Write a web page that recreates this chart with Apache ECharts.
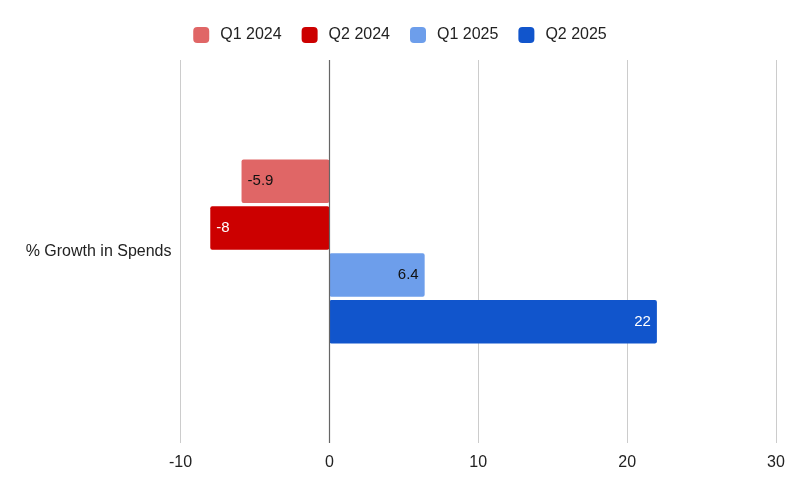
<!DOCTYPE html>
<html>
<head>
<meta charset="utf-8">
<script src="https://cdn.jsdelivr.net/npm/echarts@6/dist/echarts.min.js"></script>
<style>html,body{margin:0;padding:0;background:#fff}#c{width:800px;height:495px}</style>
</head>
<body>
<div id="c"></div>
<script>
const categories = ['% Growth in Spends'];
const seriesNames = ['Q1 2024', 'Q2 2024', 'Q1 2025', 'Q2 2025'];
const seriesValues = [[-5.9], [-8], [6.4], [22]];
const seriesColors = ['#e06666', '#cc0000', '#6d9eeb', '#1155cc'];
const labelColors = ['#111', '#fff', '#111', '#fff'];
const xTicks = { min: -10, max: 30, interval: 10 };

const font = 'Arial';
const chart = echarts.init(document.getElementById('c'), null, { renderer: 'canvas' });

const series = seriesNames.map((name, i) => ({
  name,
  type: 'bar',
  data: seriesValues[i],
  barWidth: 43.5,
  barGap: '7.6%',
  itemStyle: { color: seriesColors[i], borderRadius: 2 },
  label: {
    show: true,
    position: seriesValues[i][0] < 0 ? 'insideLeft' : 'insideRight',
    distance: 6,
    color: labelColors[i],
    fontSize: 15,
    fontWeight: 'normal',
    fontFamily: font
  },
  markLine: i === 0 ? {
    silent: true,
    symbol: 'none',
    label: { show: false },
    lineStyle: { color: '#666', type: 'solid', width: 1.2 },
    data: [{ xAxis: 0 }],
    animation: false
  } : undefined,
  z: 2
}));

chart.setOption({
  animation: false,
  textStyle: { fontFamily: font, fontWeight: 'normal' },
  legend: {
    data: seriesNames,
    top: 22,
    left: 'center',
    icon: 'roundRect',
    itemWidth: 16,
    itemHeight: 16,
    itemGap: 20,
    textStyle: { fontSize: 16, color: '#222', fontFamily: font, fontWeight: 'normal', padding: [0, 0, 0, 6] }
  },
  grid: { left: 180.5, right: 24, top: 60, bottom: 52, containLabel: false },
  xAxis: {
    type: 'value',
    min: xTicks.min,
    max: xTicks.max,
    interval: xTicks.interval,
    axisLine: { show: false },
    axisTick: { show: false },
    splitLine: { lineStyle: { color: '#cccccc', width: 1 } },
    axisLabel: { fontSize: 16, color: '#222', margin: 12, fontFamily: font }
  },
  yAxis: {
    type: 'category',
    data: categories,
    inverse: true,
    axisLine: { show: false },
    axisTick: { show: false },
    axisLabel: { fontSize: 16, color: '#222', margin: 9, fontFamily: font }
  },
  series
});
</script>
</body>
</html>
